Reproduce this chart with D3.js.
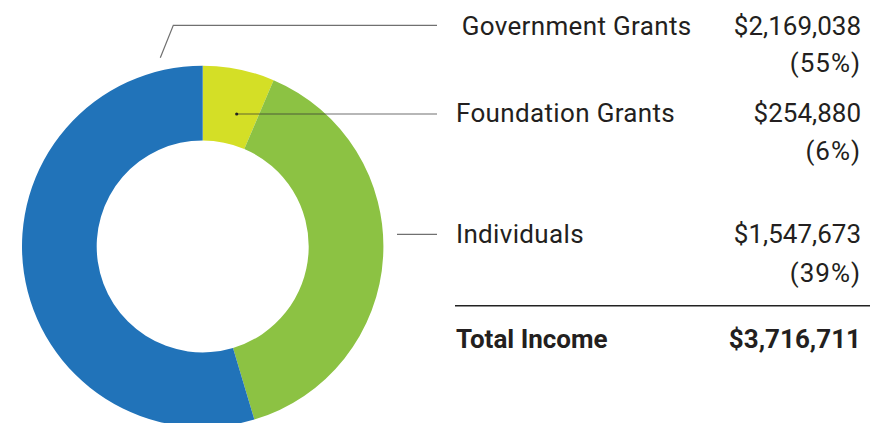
<!DOCTYPE html>
<html><head><meta charset="utf-8">
<script src="https://cdn.jsdelivr.net/npm/d3@7"></script>
<style>body{margin:0;background:#fff}svg{display:block}</style>
</head><body>
<svg id="c" width="870" height="423"></svg>
<script>
const categories = ["Foundation Grants", "Individuals", "Government Grants"];
const amounts = [254880, 1547673, 2169038];
const amountLabels = ["$254,880", "$1,547,673", "$2,169,038"];
const percentLabels = ["(6%)", "(39%)", "(55%)"];
const colors = ["#d4df26", "#8cc243", "#2173b9"];
const totalLabel = "Total Income";
const totalValue = "$3,716,711";

const svg = d3.select("#c");
const cx = 202.7, cy = 246.4, rOut = 180.7, rIn = 106;
const g = svg.append("g").attr("transform", `translate(${cx},${cy})`);
const pie = d3.pie().sort(null).value(d => d.v);
const arc = d3.arc().innerRadius(rIn).outerRadius(rOut);
const data = categories.map((c, i) => ({c, v: amounts[i], col: colors[i]}));
const arcs = pie(data);
g.selectAll("path").data(arcs).join("path").attr("d", arc).attr("fill", d => d.data.col);

const textColor = "#231f20";
const font = "Roboto, sans-serif";
const lineEnd = 437;
const rightX = 861;

const lines = svg.append("g").attr("fill", "none").attr("stroke", "#333").attr("stroke-opacity", 0.7).attr("stroke-width", 1.2);
lines.append("polyline").attr("points", `160.3,57.7 173.3,25.3 ${lineEnd},25.3`);
lines.append("line").attr("x1", 236.7).attr("y1", 114).attr("x2", lineEnd).attr("y2", 114);
svg.append("circle").attr("cx", 236.7).attr("cy", 114).attr("r", 1.6).attr("fill", "#222");
lines.append("line").attr("x1", 397).attr("y1", 234.3).attr("x2", lineEnd).attr("y2", 234.3);

const rows = [
  {i: 2, x: 461.7, y1: 35, y2: 71.7},
  {i: 0, x: 456, y1: 121.7, y2: 160},
  {i: 1, x: 456, y1: 243.3, y2: 281.7}
];
const t = svg.append("g").attr("font-family", font).attr("font-size", 26).attr("fill", textColor);
rows.forEach(r => {
  t.append("text").attr("x", r.x).attr("y", r.y1).attr("letter-spacing", 0.34).text(categories[r.i]);
  t.append("text").attr("x", rightX).attr("y", r.y1).attr("text-anchor", "end").text(amountLabels[r.i]);
  t.append("text").attr("x", rightX).attr("y", r.y2).attr("text-anchor", "end").attr("letter-spacing", 1).text(percentLabels[r.i]);
});
svg.append("line").attr("x1", 455).attr("x2", 870).attr("y1", 305.7).attr("y2", 305.7).attr("stroke", "#222").attr("stroke-width", 1.5);
t.append("text").attr("x", 456).attr("y", 347.7).attr("font-weight", 700).text(totalLabel);
t.append("text").attr("x", rightX).attr("y", 347.7).attr("text-anchor", "end").attr("font-weight", 700).text(totalValue);
</script>
</body></html>
